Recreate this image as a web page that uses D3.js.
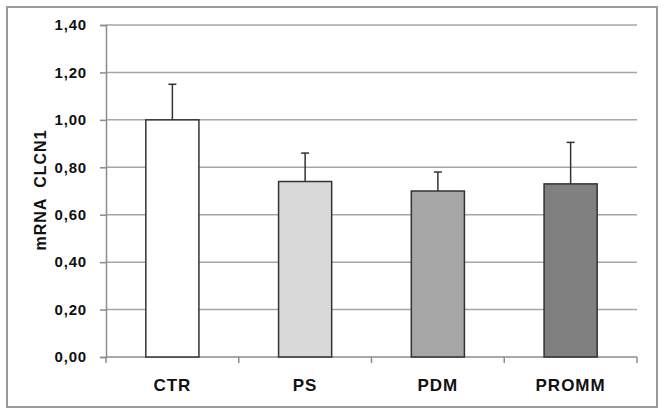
<!DOCTYPE html>
<meta charset="utf-8">
<head>
<script src="https://d3js.org/d3.v7.min.js"></script>
<style>
  body { margin: 0; background: #fff; }
  text { font-family: "Liberation Sans", Arial, sans-serif; font-weight: bold; }
</style>
</head>
<body>
<div id="my_dataviz"></div>
<script>
// chart values
var categories = ["CTR", "PS", "PDM", "PROMM"];
var means = [1.00, 0.74, 0.70, 0.73];
var errors = [0.15, 0.12, 0.08, 0.175];
var barColors = ["#ffffff", "#d9d9d9", "#a6a6a6", "#808080"];
var yTicks = [0, 0.2, 0.4, 0.6, 0.8, 1.0, 1.2, 1.4];

var W = 664, H = 414;
var margin = {top: 25, right: 27, bottom: 57, left: 106},
    width = W - margin.left - margin.right,
    height = H - margin.top - margin.bottom;

var root = d3.select("#my_dataviz")
  .append("svg")
    .attr("width", W)
    .attr("height", H);

// outer frame
root.append("rect")
  .attr("x", 7).attr("y", 7)
  .attr("width", 650).attr("height", 400)
  .attr("fill", "none")
  .attr("stroke", "#9a9a9a")
  .attr("stroke-width", 2);

var svg = root.append("g")
  .attr("transform", "translate(" + margin.left + "," + margin.top + ")");

var x = d3.scaleBand()
  .domain(categories)
  .range([0, width])
  .paddingInner(0.6)
  .paddingOuter(0.3);

var y = d3.scaleLinear()
  .domain([0, 1.4])
  .range([height, 0]);

// gridlines
svg.append("g")
  .selectAll("line")
  .data(yTicks.slice(1))
  .enter()
  .append("line")
    .attr("x1", 0)
    .attr("x2", width)
    .attr("y1", function(d) { return y(d); })
    .attr("y2", function(d) { return y(d); })
    .attr("stroke", "#a6a6a6")
    .attr("stroke-width", 1.5);

// y axis
var yAxis = svg.append("g")
  .call(d3.axisLeft(y).tickValues(yTicks).tickSize(6).tickPadding(13)
    .tickFormat(function(d) { return d3.format(".2f")(d).replace(".", ","); }));
yAxis.select(".domain").attr("stroke", "#8c8c8c").attr("stroke-width", 1.5);
yAxis.selectAll(".tick line").attr("stroke", "#8c8c8c").attr("stroke-width", 1.5);
yAxis.selectAll(".tick text")
  .style("font-size", "15px")
  .style("letter-spacing", "0.8px")
  .attr("fill", "#111");

// x axis, ticks on category boundaries
svg.append("line")
  .attr("x1", 0).attr("x2", width)
  .attr("y1", height).attr("y2", height)
  .attr("stroke", "#8c8c8c").attr("stroke-width", 1.5);
svg.append("g")
  .selectAll("line")
  .data(d3.range(categories.length + 1))
  .enter()
  .append("line")
    .attr("x1", function(i) { return i * width / categories.length; })
    .attr("x2", function(i) { return i * width / categories.length; })
    .attr("y1", height)
    .attr("y2", height + 6)
    .attr("stroke", "#8c8c8c").attr("stroke-width", 1.5);

svg.append("g")
  .selectAll("text")
  .data(categories)
  .enter()
  .append("text")
    .attr("x", function(d) { return x(d) + x.bandwidth() / 2; })
    .attr("y", height + 34)
    .style("text-anchor", "middle")
    .style("font-size", "17px")
    .style("letter-spacing", "1px")
    .attr("fill", "#111")
    .text(function(d) { return d; });

// error bars (upper only)
var eb = svg.append("g");
categories.forEach(function(c, i) {
  var cx = x(c) + x.bandwidth() / 2;
  eb.append("line")
    .attr("x1", cx).attr("x2", cx)
    .attr("y1", y(means[i])).attr("y2", y(means[i] + errors[i]))
    .attr("stroke", "#333").attr("stroke-width", 1.5);
  eb.append("line")
    .attr("x1", cx - 4).attr("x2", cx + 4)
    .attr("y1", y(means[i] + errors[i])).attr("y2", y(means[i] + errors[i]))
    .attr("stroke", "#333").attr("stroke-width", 1.5);
});

// bars
svg.append("g")
  .selectAll("rect")
  .data(categories)
  .enter()
  .append("rect")
    .attr("x", function(d) { return x(d); })
    .attr("y", function(d, i) { return y(means[i]); })
    .attr("width", x.bandwidth())
    .attr("height", function(d, i) { return height - y(means[i]); })
    .attr("fill", function(d, i) { return barColors[i]; })
    .attr("stroke", "#333")
    .attr("stroke-width", 1.5);

// y label
svg.append("text")
  .attr("x", -(190 - margin.top))
  .attr("y", -margin.left + 46)
  .attr("transform", "rotate(-90)")
  .style("text-anchor", "middle")
  .style("font-size", "16px")
  .style("letter-spacing", "1px")
  .style("word-spacing", "5px")
  .attr("fill", "#111")
  .text("mRNA CLCN1");
</script>
</body>
